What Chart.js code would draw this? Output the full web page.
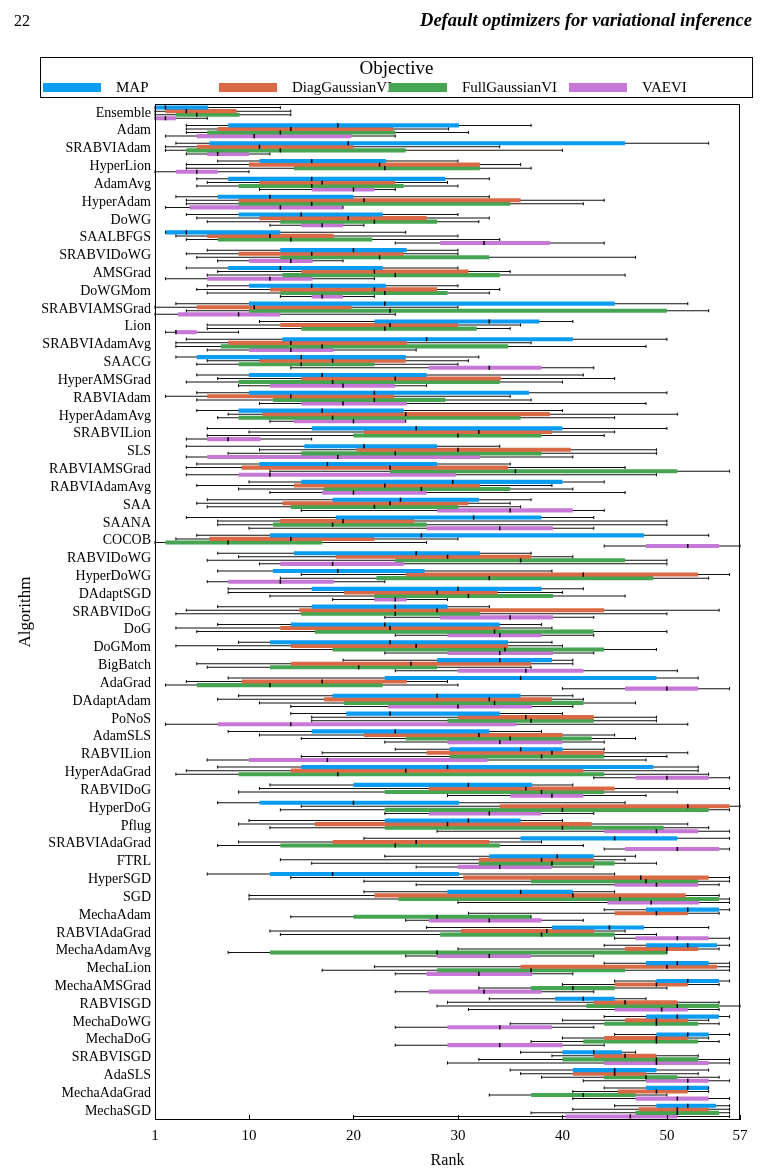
<!DOCTYPE html>
<html>
<head>
<meta charset="utf-8">
<script src="https://cdn.jsdelivr.net/npm/chart.js@4.4.0/dist/chart.umd.min.js"></script>
<style>
  body { margin: 0; background: #fff; font-family: "Liberation Serif", serif; color: #000; }
  #page { position: relative; width: 767px; height: 1176px; overflow: hidden; }
  #chartBox { position: absolute; left: 0; top: 0; width: 767px; height: 1176px; }
  #pageNum { position: absolute; left: 14px; top: 12px; font-size: 16px; }
  #runningHead { position: absolute; right: 15px; top: 10px; font-size: 18.5px; font-weight: bold; font-style: italic; }
  #legend { position: absolute; left: 40px; top: 57px; width: 711px; height: 39px; border: 1px solid #000; }
  #legend .title { position: absolute; left: 0; right: 0; top: 0; text-align: center; font-size: 19px; line-height: 20px; }
  #legend .item { position: absolute; top: 22px; height: 15px; display: flex; align-items: center; font-size: 15px; }
  #legend .swatch { width: 58px; height: 9px; margin-right: 15px; }
</style>
</head>
<body>
<div id="page">
  <div id="chartBox"><canvas id="chart" width="767" height="1176"></canvas></div>
  <div id="pageNum">22</div>
  <div id="runningHead">Default optimizers for variational inference</div>
  <div id="legend"><div class="title">Objective</div></div>
</div>
<script>
// Categories (top to bottom)
const algorithms = ["Ensemble", "Adam", "SRABVIAdam", "HyperLion", "AdamAvg", "HyperAdam", "DoWG", "SAALBFGS",
  "SRABVIDoWG", "AMSGrad", "DoWGMom", "SRABVIAMSGrad", "Lion", "SRABVIAdamAvg", "SAACG", "HyperAMSGrad",
  "RABVIAdam", "HyperAdamAvg", "SRABVILion", "SLS", "RABVIAMSGrad", "RABVIAdamAvg", "SAA", "SAANA", "COCOB",
  "RABVIDoWG", "HyperDoWG", "DAdaptSGD", "SRABVIDoG", "DoG", "DoGMom", "BigBatch", "AdaGrad", "DAdaptAdam",
  "PoNoS", "AdamSLS", "RABVILion", "HyperAdaGrad", "RABVIDoG", "HyperDoG", "Pflug", "SRABVIAdaGrad", "FTRL",
  "HyperSGD", "SGD", "MechaAdam", "RABVIAdaGrad", "MechaAdamAvg", "MechaLion", "MechaAMSGrad", "RABVISGD",
  "MechaDoWG", "MechaDoG", "SRABVISGD", "AdaSLS", "MechaAdaGrad", "MechaSGD"];

const seriesNames = ["MAP", "DiagGaussianVI", "FullGaussianVI", "VAEVI"];
const seriesColors = ["#0a9cf0", "#d96a45", "#45a550", "#c778d6"];

const xTicks = [1, 10, 20, 30, 40, 50, 57];

// each entry: [min, q1, median, q3, max] rank, one per algorithm
const mapStats = [
  [1,1,2,6.1,13], [4,8,18.5,30.1,37], [3,6.2,19.5,46,54], [7,11,16,23.1,30], [5,8,16,28.8,33],
  [3,7,12,20,33], [4,9,15,22.8,30], [2,2,4,13,25], [6,13,20,25.1,30], [4,8,13,22.8,30],
  [6,10,16,23.1,30], [3,10,23,45,52], [11,22,33,37.8,41], [4,13.2,27,41,50], [3,5,15,25,32],
  [5,10,17,27,42], [5,10,22,36.8,50], [5,9,17,24.8,40], [6,16,26,40,50], [4,15.3,21,28,34],
  [5,11,17.5,28,35], [10,15,29.5,40,44], [6,18,24.5,32,37], [4,18.3,31.5,38,43], [5,12,26.5,47.8,54],
  [7,14.3,26,32.1,37], [7,12.3,18.5,26.8,39], [8,16,30,38,42], [7,16,24,29,33], [7,14,23,34,38],
  [9,12,23.5,34.8,39], [19,28,34,39,41], [8,23,36,49,53], [9,18,28,36,41], [14,19.3,23.5,34,40],
  [8,16,24,33,38], [24,29.2,36,40,44], [7,15,29,48.7,53], [12,20,31,37.1,41], [7,11,20,30.1,46],
  [10,23,31,36,40], [21,36,45,51,56], [23,33,39.5,43,47], [6,12,18,30.1,45], [21,29,36,41,45],
  [44,48,52,55,56], [27,39,44.5,47.8,54], [44,48,52,54.8,56], [44,48,51,54,56], [45,49,52,55,56],
  [33,39.3,42,45,48], [44,48,51,55,56], [45,49,52,54,56], [36,40,43,45.7,47], [35,41,45,49,54],
  [44,48,52,54,54], [45,49,52,54.7,56]];

const diagStats = [
  [1,2,4,8.8,14], [4,7,14,23.8,29.1], [2,5,11,20,34], [4,10,22.5,32.1,36], [6,11,17,24,29],
  [4,9,21,36,44], [5,11,19.5,27,33], [3,6,12,18.1,30], [4,9,16,24.8,30], [7,15,22,31,35],
  [5,12,22,28,34], [1,5,10.5,19.8,30], [6,13,23.5,30,36], [3,8,14,25.1,37], [6,11,18,25,31],
  [7,15,24,34.1,45], [2,6,14,23.9,35], [8,11.3,25,38.8,51], [10,21,32,39,45], [11,20.3,30,40.8,49],
  [4,9.3,23.5,34.8,46], [5,14.3,23,32.1,39], [5,13.2,23.5,31,35], [7,13,19,25.8,50], [3,6.2,14,22,30],
  [9,18.3,29,37,41], [15,25,42,53,56], [8,19.1,28,33.8,40], [4,14.8,28,44,55], [3,13,23.5,34,39],
  [3,14,26,34.8,40], [5,14,25.5,37,41], [4,9.3,17,25.1,29], [7,17.2,33,39,42], [16,30,36.5,43,49],
  [11,21,32,40,45], [17,27,39,44,52], [4,14,25,42,53], [11,27.2,36.5,45,56], [15,34,52,56,57],
  [9,16.3,29,42.8,52], [9,18,26,33,38], [13,32,38,43,46], [14,30.5,47.5,54,56], [10,22,41,51.8,55],
  [31,45,49,52,55], [12,30.3,38.5,43,46], [30,46,50,53,55], [22,36,50,54.8,56], [40,45,49,52,55],
  [29,43,46,51,55], [40,46,49,52,54], [40,44,49,52,54], [39,43,46,49,53], [36,41,45,48,53],
  [41,45.3,49,52,54], [41,47.3,51,54,56]];

const fullStats = [
  [1,3,5,9.1,14], [4,6,13,24,31], [2,4,13,25,40], [4,14.3,23,32.1,37], [5,9,16,24.8,30],
  [4,9,16,35,42], [6,13,22,28,32], [4,7,14,21.8,34], [5,13,22.5,33,47], [6,13.2,24,34,46],
  [6,13,23,29,33], [4,10,23.5,50,54], [6,15,23,31.8,35], [3,7.3,17,34.8,48], [5,9,15,22,30],
  [4,9,18,34,40], [5,12.3,22,28.8,37], [7,9,18,36,45], [6,20,30,38,44], [8,15,24,38,49],
  [12,23.5,35.5,51,56], [9,17.2,26.5,35,41], [6,14,22,30,36], [7,12.3,18,27,50], [1,2,8,17,27],
  [6,24,36,46,50], [13,22.2,33,48.7,54], [12,22,31,39.1,46], [3,15,24,32.1,50], [5,16.3,33.5,43,50],
  [7,18,34.5,44,49], [6,12,20.5,28,37], [2,5,12,22.8,30], [11,19.1,33.5,42,47], [16,29,37,43,49],
  [15,25,35,42.8,47], [15,29.2,38,44,50], [3,9,18.5,44,54], [9,23,38,44,51], [13,23,40,54,56],
  [12,23,40,49.7,54], [7,13,24,34,42], [16,32,39,45,49], [21,37,48,53,56], [10,24.3,45.5,55,56],
  [14,20,28,37,37], [13,28.3,38,45,49], [8,12,28,50,50], [17,28,37,46,56], [32,37,41,45,50],
  [28,42.3,51,55,57], [35,44,49,53,55], [37,42,49,53,55], [32,40,49,53,56], [38,44,48,51,55],
  [33,37,42,47,50], [37,47,51,55,56]];

const vaeStats = [
  [1,1,2,3,6], [2,5,10.5,19.8,24], [4,6,7,10,12], [1,3,5,7,10], [11,16,20,22,24],
  [2,4.3,13,19,19], [12,15,17,19,21], [24,28.3,32.5,38.8,44], [7,10,14,16.1,19], [2,6,12,16.1,22],
  [13,16,17,19,22], [1,3.2,9,13,24], [2,3,3,5,9], [6,10,14,18.1,26], [14,27.2,33,38,43],
  [9,12,19,24,27], [11,15,19,25.1,48], [12,14.3,20,25,25], [4,6,8,11.1,16], [4,6,18.5,32.1,41],
  [4,9,12,29.8,49], [12,17,20,27,46], [15,28,35,41,44], [10,27,34,39.1,43], [44,48,52,55,57],
  [11,13,18,24.8,50], [6,8,13,18.1,23], [18,22,24,25.1,29], [23,28.3,35,39.1,43], [24,29,34,38,43],
  [23,29,34,39.1,43], [24,30,36.5,42,51], [40,46,50,53,56], [14,23.3,30,37.1,41], [2,7,14,35.6,52],
  [23,29,34,40,44], [6,10,17.5,32.8,48], [43,47,50,54,56], [29,35,39,42,48], [23,27.2,33,38,43],
  [28,44,49,53,56], [44,46,51,55,56], [26,30,34,39,43], [26,45,49,53,55], [30,44.3,48.5,53.1,56],
  [25,27.2,33,38,42], [45,47,51,54,56], [25,28,33,37,43], [24,27,32,37.1,41], [24,27.2,32.5,38,43],
  [31,45,49.5,52,55], [24,29,34,39,43], [24,29,34,40,44], [29,44,49,54,56], [42,48,52,54,56],
  [41,47,51,54,56], [20,40.3,46.5,51,56]];

const allStats = [mapStats, diagStats, fullStats, vaeStats];

// HTML legend
const legendEl = document.getElementById("legend");
const legendLeft = [2, 178, 348, 528];
seriesNames.forEach((name, i) => {
  const item = document.createElement("div");
  item.className = "item";
  item.style.left = legendLeft[i] + "px";
  item.innerHTML = `<span class="swatch" style="background:${seriesColors[i]}"></span><span>${name}</span>`;
  legendEl.appendChild(item);
});

// Boxes (q1..q3) first so they draw on top, whiskers (min..max) after
const boxSets = allStats.map((stats, i) => ({
  label: seriesNames[i],
  data: stats.map((s) => [s[1], s[3]]),
  backgroundColor: seriesColors[i],
  borderWidth: 0,
  stack: seriesNames[i],
}));
const whiskerSets = allStats.map((stats, i) => ({
  label: seriesNames[i] + " range",
  data: stats.map((s) => [s[0], s[4]]),
  backgroundColor: "#111",
  borderWidth: 0,
  maxBarThickness: 1,
  stack: seriesNames[i],
}));

// Median tick on each box, small caps on whisker ends
const medianTicks = {
  id: "medianTicks",
  afterDatasetsDraw(chart) {
    const ctx = chart.ctx;
    const xs = chart.scales.x;
    const n = allStats.length;
    ctx.save();
    ctx.strokeStyle = "#000";
    allStats.forEach((stats, d) => {
      const boxes = chart.getDatasetMeta(d).data;
      boxes.forEach((bar, i) => {
        ctx.lineWidth = 1;
        [stats[i][0], stats[i][4]].forEach((v) => {
          const px = xs.getPixelForValue(v);
          ctx.beginPath();
          ctx.moveTo(px, bar.y - 1.5);
          ctx.lineTo(px, bar.y + 1.5);
          ctx.stroke();
        });
        const px = xs.getPixelForValue(stats[i][2]);
        ctx.lineWidth = 1.5;
        ctx.beginPath();
        ctx.moveTo(px, bar.y - bar.height / 2);
        ctx.lineTo(px, bar.y + bar.height / 2);
        ctx.stroke();
      });
    });
    ctx.restore();
  },
};

// Frame round the plot, with inward ticks on the rank axis
const frame = {
  id: "frame",
  afterDraw(chart) {
    const { ctx, chartArea: a } = chart;
    const xs = chart.scales.x;
    ctx.save();
    ctx.strokeStyle = "#000";
    ctx.lineWidth = 1;
    ctx.strokeRect(a.left + 0.5, a.top + 0.5, a.right - a.left - 1, a.bottom - a.top - 1);
    xTicks.forEach((v) => {
      const px = Math.round(xs.getPixelForValue(v)) + 0.5;
      ctx.beginPath();
      ctx.moveTo(px, a.bottom);
      ctx.lineTo(px, a.bottom - 5);
      ctx.stroke();
    });
    ctx.restore();
  },
};

const serif = "'Liberation Serif', serif";

new Chart(document.getElementById("chart"), {
  type: "bar",
  data: { labels: algorithms, datasets: [...boxSets, ...whiskerSets] },
  plugins: [medianTicks, frame],
  options: {
    indexAxis: "y",
    responsive: false,
    animation: false,
    layout: { padding: { top: 104, right: 27, bottom: 6, left: 12 } },
    datasets: { bar: { categoryPercentage: 0.8, barPercentage: 1.15 } },
    plugins: { legend: { display: false }, tooltip: { enabled: false } },
    scales: {
      x: {
        type: "linear",
        min: 1,
        max: 57,
        stacked: false,
        grid: { display: false, drawTicks: false },
        border: { display: false },
        afterBuildTicks: (scale) => {
          scale.ticks = xTicks.map((v) => ({ value: v }));
        },
        afterFit: (scale) => {
          scale.height = 50;
        },
        ticks: { color: "#000", padding: 7, font: { family: serif, size: 15 } },
        title: { display: true, text: "Rank", color: "#000", padding: 0, font: { family: serif, size: 16 } },
      },
      y: {
        grid: { display: false, drawTicks: false },
        border: { display: false },
        afterFit: (scale) => {
          scale.width = 143;
        },
        ticks: { color: "#000", padding: 4, autoSkip: false, font: { family: serif, size: 14 } },
        title: { display: true, text: "Algorithm", color: "#000", padding: 3, font: { family: serif, size: 17 } },
      },
    },
  },
});
</script>
</body>
</html>
